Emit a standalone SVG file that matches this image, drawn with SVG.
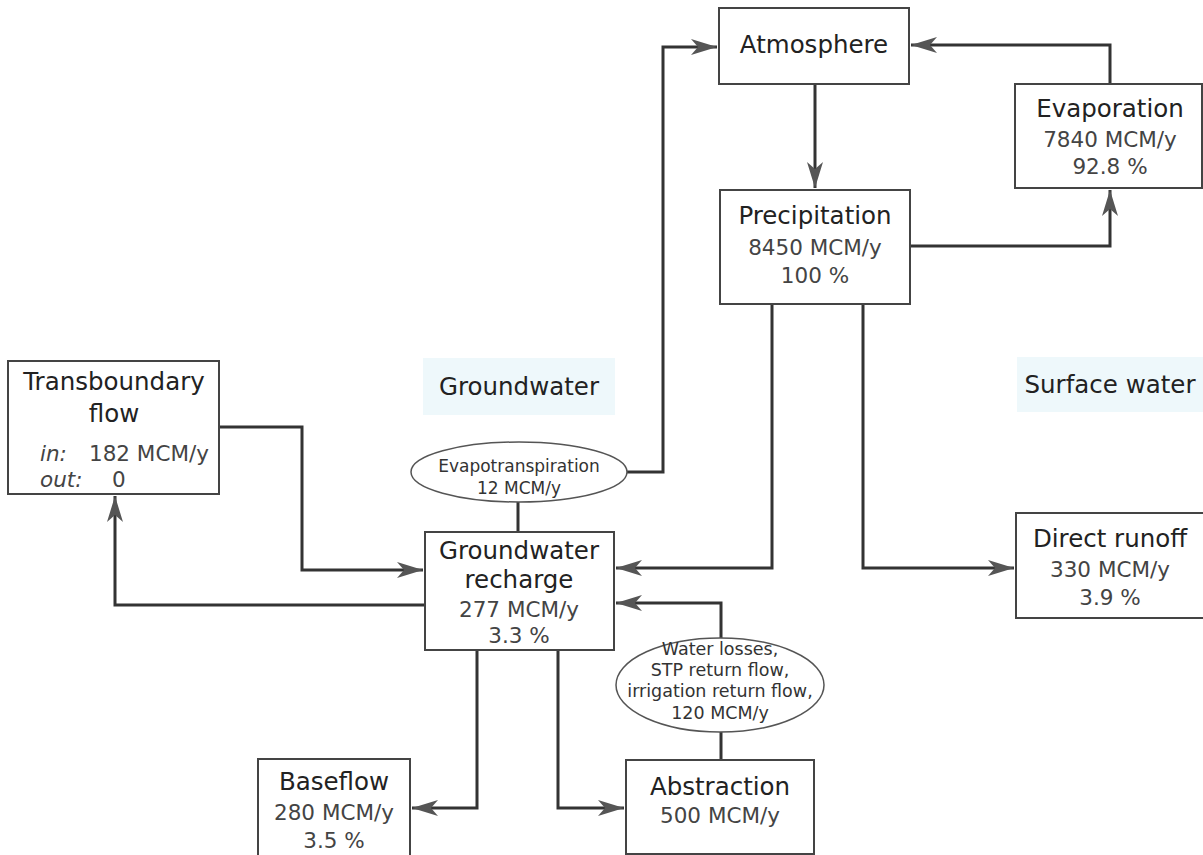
<svg xmlns="http://www.w3.org/2000/svg" width="1203" height="855" viewBox="0 0 1203 855">
<defs>
<marker id="ah" markerUnits="userSpaceOnUse" markerWidth="28" markerHeight="18" refX="26" refY="8" orient="auto">
<path d="M0,0 L26,8 L0,16 L7,8 z" fill="#555"/>
</marker>
<style>
.box{fill:#fff;stroke:#444;stroke-width:2}
.ell{fill:#fff;stroke:#555;stroke-width:1.5}
.t{font-family:"DejaVu Sans",sans-serif;font-size:24.5px;fill:#222;text-anchor:middle}
.s{font-family:"DejaVu Sans",sans-serif;font-size:21.5px;fill:#444;text-anchor:middle}
.e{font-family:"DejaVu Sans",sans-serif;font-size:17px;fill:#333;text-anchor:middle}
.w{font-family:"DejaVu Sans",sans-serif;font-size:17.5px;fill:#333;text-anchor:middle}
.c{fill:none;stroke:#333;stroke-width:3}
.lbl{fill:#eef8fb}
</style>
</defs>
<rect width="1203" height="855" fill="#fff"/>
<g id="labels">
<rect class="lbl" x="423" y="358" width="192" height="57"/>
<text class="t" x="519" y="395">Groundwater</text>
<rect class="lbl" x="1017" y="357" width="186" height="55"/>
<text class="t" x="1110" y="393">Surface water</text>
</g>
<g id="connectors">
<path class="c" d="M815,84 V188" marker-end="url(#ah)"/>
<path class="c" d="M1110,84 V45 H911" marker-end="url(#ah)"/>
<path class="c" d="M910,246 H1110 V190" marker-end="url(#ah)"/>
<path class="c" d="M772,304 V568 H616" marker-end="url(#ah)"/>
<path class="c" d="M863,304 V568 H1014" marker-end="url(#ah)"/>
<path class="c" d="M627,472 H663 V47 H717" marker-end="url(#ah)"/>
<path class="c" d="M518,502 V532"/>
<path class="c" d="M219,427 H302 V570 H423" marker-end="url(#ah)"/>
<path class="c" d="M425,605 H115 V496" marker-end="url(#ah)"/>
<path class="c" d="M477,650 V808 H412" marker-end="url(#ah)"/>
<path class="c" d="M558,650 V808 H624" marker-end="url(#ah)"/>
<path class="c" d="M721,638 V603 H616" marker-end="url(#ah)"/>
<path class="c" d="M721,732 V760"/>
</g>
<g id="atmosphere">
<rect class="box" x="719" y="8" width="190" height="76"/>
<text class="t" x="814" y="53">Atmosphere</text>
</g>
<g id="evaporation">
<rect class="box" x="1015" y="84" width="187" height="104"/>
<text class="t" x="1110" y="117">Evaporation</text>
<text class="s" x="1110" y="147">7840 MCM/y</text>
<text class="s" x="1110" y="174">92.8 %</text>
</g>
<g id="precipitation">
<rect class="box" x="720" y="190" width="190" height="114"/>
<text class="t" x="815" y="224">Precipitation</text>
<text class="s" x="815" y="255">8450 MCM/y</text>
<text class="s" x="815" y="283">100 %</text>
</g>
<g id="transboundary">
<rect class="box" x="8" y="361" width="211" height="133"/>
<text class="t" x="114" y="390">Transboundary</text>
<text class="t" x="114" y="422">flow</text>
<text class="s" x="40" y="461" style="text-anchor:start;font-style:italic">in:</text>
<text class="s" x="89" y="461" style="text-anchor:start">182 MCM/y</text>
<text class="s" x="40" y="487" style="text-anchor:start;font-style:italic">out:</text>
<text class="s" x="112" y="487" style="text-anchor:start">0</text>
</g>
<g id="evapotranspiration">
<ellipse class="ell" cx="519" cy="472" rx="108" ry="30"/>
<text class="e" x="519" y="472">Evapotranspiration</text>
<text class="e" x="519" y="494">12 MCM/y</text>
</g>
<g id="recharge">
<rect class="box" x="425" y="532" width="189" height="118"/>
<text class="t" x="519" y="559">Groundwater</text>
<text class="t" x="519" y="588">recharge</text>
<text class="s" x="519" y="617">277 MCM/y</text>
<text class="s" x="519" y="643">3.3 %</text>
</g>
<g id="directrunoff">
<rect class="box" x="1016" y="513" width="188" height="105"/>
<text class="t" x="1110" y="547">Direct runoff</text>
<text class="s" x="1110" y="577">330 MCM/y</text>
<text class="s" x="1110" y="605">3.9 %</text>
</g>
<g id="waterlosses">
<ellipse class="ell" cx="720" cy="685" rx="104" ry="47"/>
<text class="w" x="720" y="655">Water losses,</text>
<text class="w" x="720" y="676">STP return flow,</text>
<text class="w" x="720" y="697">irrigation return flow,</text>
<text class="w" x="720" y="719">120 MCM/y</text>
</g>
<g id="baseflow">
<rect class="box" x="258" y="759" width="152" height="110"/>
<text class="t" x="334" y="790">Baseflow</text>
<text class="s" x="334" y="820">280 MCM/y</text>
<text class="s" x="334" y="848">3.5 %</text>
</g>
<g id="abstraction">
<rect class="box" x="626" y="760" width="188" height="94"/>
<text class="t" x="720" y="795">Abstraction</text>
<text class="s" x="720" y="823">500 MCM/y</text>
</g>
</svg>
